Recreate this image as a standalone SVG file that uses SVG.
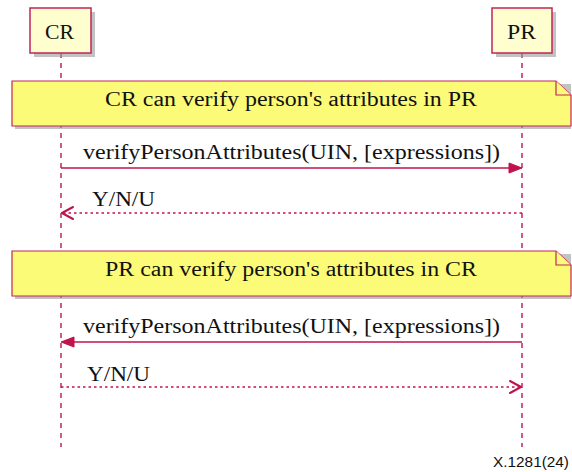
<svg xmlns="http://www.w3.org/2000/svg" width="572" height="472" viewBox="0 0 572 472">
  <style>
    .lbl { font-family: 'Liberation Serif', 'DejaVu Serif', serif; font-size: 20px; fill: #111; }
    .part { fill: #FEFECE; stroke: #C2255A; stroke-width: 1.5; }
    .note { fill: #FBFB77; stroke: #C2255A; stroke-width: 1.2; }
    .shadow { fill: #9a9a9a; opacity: 0.6; }
    .life { stroke: #C2255A; stroke-width: 1.5; stroke-dasharray: 5 5; fill: none; }
    .msg { stroke: #C2124E; stroke-width: 1.5; fill: none; }
    .ret { stroke: #C2124E; stroke-width: 1.5; stroke-dasharray: 2.5 3; fill: none; }
    .head { fill: #C2124E; stroke: #C2124E; stroke-width: 1; }
    .open { fill: none; stroke: #C2124E; stroke-width: 2; stroke-linecap: round; stroke-linejoin: round; }
    .fig { font-family: 'Liberation Sans', Arial, sans-serif; font-size: 14px; fill: #111; }
  </style>

  <!-- lifelines -->
  <g id="lifelines">
    <line class="life" x1="61" y1="53" x2="61" y2="447"/>
    <line class="life" x1="522" y1="53" x2="522" y2="447"/>
  </g>

  <!-- participants -->
  <g id="CR">
    <rect class="shadow" x="34" y="12" width="61" height="45"/>
    <rect class="part" x="30" y="8" width="61" height="45"/>
    <text class="lbl" x="45" y="39" textLength="29" lengthAdjust="spacingAndGlyphs">CR</text>
  </g>
  <g id="PR">
    <rect class="shadow" x="496" y="12" width="60" height="45"/>
    <rect class="part" x="492" y="8" width="60" height="45"/>
    <text class="lbl" x="507" y="39" textLength="29" lengthAdjust="spacingAndGlyphs">PR</text>
  </g>

  <!-- notes -->
  <g id="note1">
    <rect class="shadow" x="15" y="84" width="556" height="45"/>
    <path class="note" d="M12,81 H556 L571,95 V126 H12 Z"/>
    <path class="note" d="M556,81 V95 H571"/>
    <text class="lbl" x="105" y="106" textLength="372" lengthAdjust="spacingAndGlyphs">CR can verify person's attributes in PR</text>
  </g>
  <g id="note2">
    <rect class="shadow" x="15" y="254" width="556" height="45"/>
    <path class="note" d="M12,251 H556 L571,265 V296 H12 Z"/>
    <path class="note" d="M556,251 V265 H571"/>
    <text class="lbl" x="105" y="276" textLength="372" lengthAdjust="spacingAndGlyphs">PR can verify person's attributes in CR</text>
  </g>

  <!-- messages -->
  <g id="connectors">
    <line class="msg" x1="61" y1="168" x2="512" y2="168"/>
    <polygon class="head" points="522,168 509,163 509,173"/>
    <text class="lbl" x="83" y="159" textLength="417" lengthAdjust="spacingAndGlyphs">verifyPersonAttributes(UIN, [expressions])</text>

    <line class="ret" x1="522" y1="213" x2="63" y2="213"/>
    <polyline class="open" points="73,207 62,213 73,219"/>
    <text class="lbl" x="92" y="206" textLength="63" lengthAdjust="spacingAndGlyphs">Y/N/U</text>

    <line class="msg" x1="522" y1="342" x2="71" y2="342"/>
    <polygon class="head" points="61,342 74,337 74,347"/>
    <text class="lbl" x="83" y="333" textLength="417" lengthAdjust="spacingAndGlyphs">verifyPersonAttributes(UIN, [expressions])</text>

    <line class="ret" x1="61" y1="387" x2="520" y2="387"/>
    <polyline class="open" points="510,381 521,387 510,393"/>
    <text class="lbl" x="87" y="381" textLength="63" lengthAdjust="spacingAndGlyphs">Y/N/U</text>
  </g>

  <text class="fig" x="493" y="467" textLength="76" lengthAdjust="spacingAndGlyphs">X.1281(24)</text>
</svg>
